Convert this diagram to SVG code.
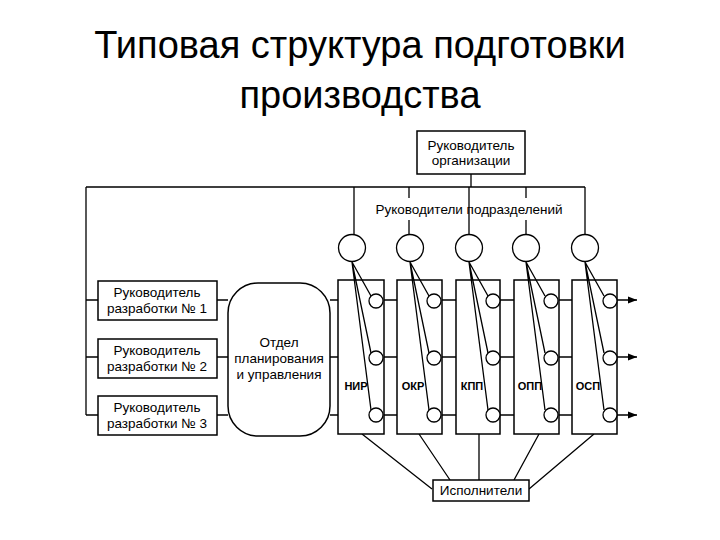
<svg xmlns="http://www.w3.org/2000/svg" width="720" height="540" viewBox="0 0 720 540">
<style>
.t{font-family:"Liberation Sans",Arial,sans-serif;fill:#000}
.n{font-family:"Liberation Sans",Arial,sans-serif;font-size:13.5px;text-anchor:middle;fill:#000}
.s{font-family:"Liberation Sans",Arial,sans-serif;font-size:11px;font-weight:bold;text-anchor:middle;fill:#000}
.b{fill:#fff;stroke:#000;stroke-width:1.5}
.l{fill:none;stroke:#000;stroke-width:1.3}
.c{fill:#fff;stroke:#000;stroke-width:1.3}
</style>
<defs><marker id="a" viewBox="0 0 10 10" refX="10" refY="5" markerWidth="7" markerHeight="7" orient="auto"><path d="M0,1L10,5L0,9z" fill="#000"/></marker></defs>
<rect width="720" height="540" fill="#fff"/>
<text class="t" x="360" y="58" font-size="38" text-anchor="middle">Типовая структура подготовки</text>
<text class="t" x="360" y="108" font-size="38" text-anchor="middle">производства</text>
<g id="connectors">
<path class="l" d="M471,174V187M86,187H585M86,187V415M86,300H98M86,357H98M86,415H98"/>
<path class="l" d="M354,187V235M409,187V198M409,220V235M469,187V235M526,187V198M526,220V235M585,187V235"/>
<path class="l" d="M217,300H228M217,357H228M217,415H228"/>
<path class="l" d="M330,300H637" marker-end="url(#a)"/>
<path class="l" d="M330,357H637" marker-end="url(#a)"/>
<path class="l" d="M330,415H637" marker-end="url(#a)"/>
<path class="l" d="M362,434L432,489M419,434L450,480M479,434V480M539,434L514,480M594,434L529,489"/>
</g>
<g id="cols">
<rect class="b" x="338" y="280" width="46" height="154"/>
<rect class="b" x="397" y="280" width="45" height="154"/>
<rect class="b" x="456" y="280" width="44" height="154"/>
<rect class="b" x="514" y="280" width="45" height="154"/>
<rect class="b" x="572" y="280" width="45" height="154"/>
</g>
<g id="labels">
<text class="s" x="356" y="390">НИР</text>
<text class="s" x="413" y="390">ОКР</text>
<text class="s" x="472" y="390">КПП</text>
<text class="s" x="530" y="390">ОПП</text>
<text class="s" x="588" y="390">ОСП</text>
<text class="n" x="469" y="214">Руководители подразделений</text>
</g>
<g class="l">
<path d="M352,262L371,296M352,262L371,353M352,262L371,410"/>
<path d="M410,262L429,296M410,262L429,353M410,262L429,410"/>
<path d="M469,262L488,296M469,262L488,353M469,262L488,410"/>
<path d="M526,262L545,296M526,262L545,353M526,262L545,410"/>
<path d="M585,262L604,296M585,262L604,353M585,262L604,410"/>
</g>
<g id="small">
<circle class="c" cx="376" cy="301" r="7"/><circle class="c" cx="376" cy="358" r="7"/><circle class="c" cx="376" cy="415" r="7"/>
<circle class="c" cx="434" cy="301" r="7"/><circle class="c" cx="434" cy="358" r="7"/><circle class="c" cx="434" cy="415" r="7"/>
<circle class="c" cx="493" cy="301" r="7"/><circle class="c" cx="493" cy="358" r="7"/><circle class="c" cx="493" cy="415" r="7"/>
<circle class="c" cx="551" cy="301" r="7"/><circle class="c" cx="551" cy="358" r="7"/><circle class="c" cx="551" cy="415" r="7"/>
<circle class="c" cx="610" cy="301" r="7"/><circle class="c" cx="610" cy="358" r="7"/><circle class="c" cx="610" cy="415" r="7"/>
</g>
<g id="heads">
<circle class="c" cx="352" cy="248" r="13.5"/><circle class="c" cx="410" cy="248" r="13.5"/><circle class="c" cx="469" cy="248" r="13.5"/><circle class="c" cx="526" cy="248" r="13.5"/><circle class="c" cx="585" cy="248" r="13.5"/>
</g>
<g id="org"><rect class="b" x="417" y="131" width="108" height="43"/><text class="n" x="471" y="150">Руководитель</text><text class="n" x="471" y="165">организации</text></g>
<g id="r1"><rect class="b" x="98" y="281" width="119" height="39"/><text class="n" x="157" y="297">Руководитель</text><text class="n" x="157" y="313">разработки № 1</text></g>
<g id="r2"><rect class="b" x="98" y="339" width="119" height="39"/><text class="n" x="157" y="355">Руководитель</text><text class="n" x="157" y="371">разработки № 2</text></g>
<g id="r3"><rect class="b" x="98" y="396" width="119" height="39"/><text class="n" x="157" y="412">Руководитель</text><text class="n" x="157" y="428">разработки № 3</text></g>
<g id="dept"><rect class="b" x="228" y="283" width="102" height="153" rx="30"/><text class="n" x="279" y="347">Отдел</text><text class="n" x="279" y="363">планирования</text><text class="n" x="279" y="379">и управления</text></g>
<g id="exec"><rect class="b" x="433" y="480" width="96" height="21"/><text class="n" x="481" y="495">Исполнители</text></g>
</svg>
